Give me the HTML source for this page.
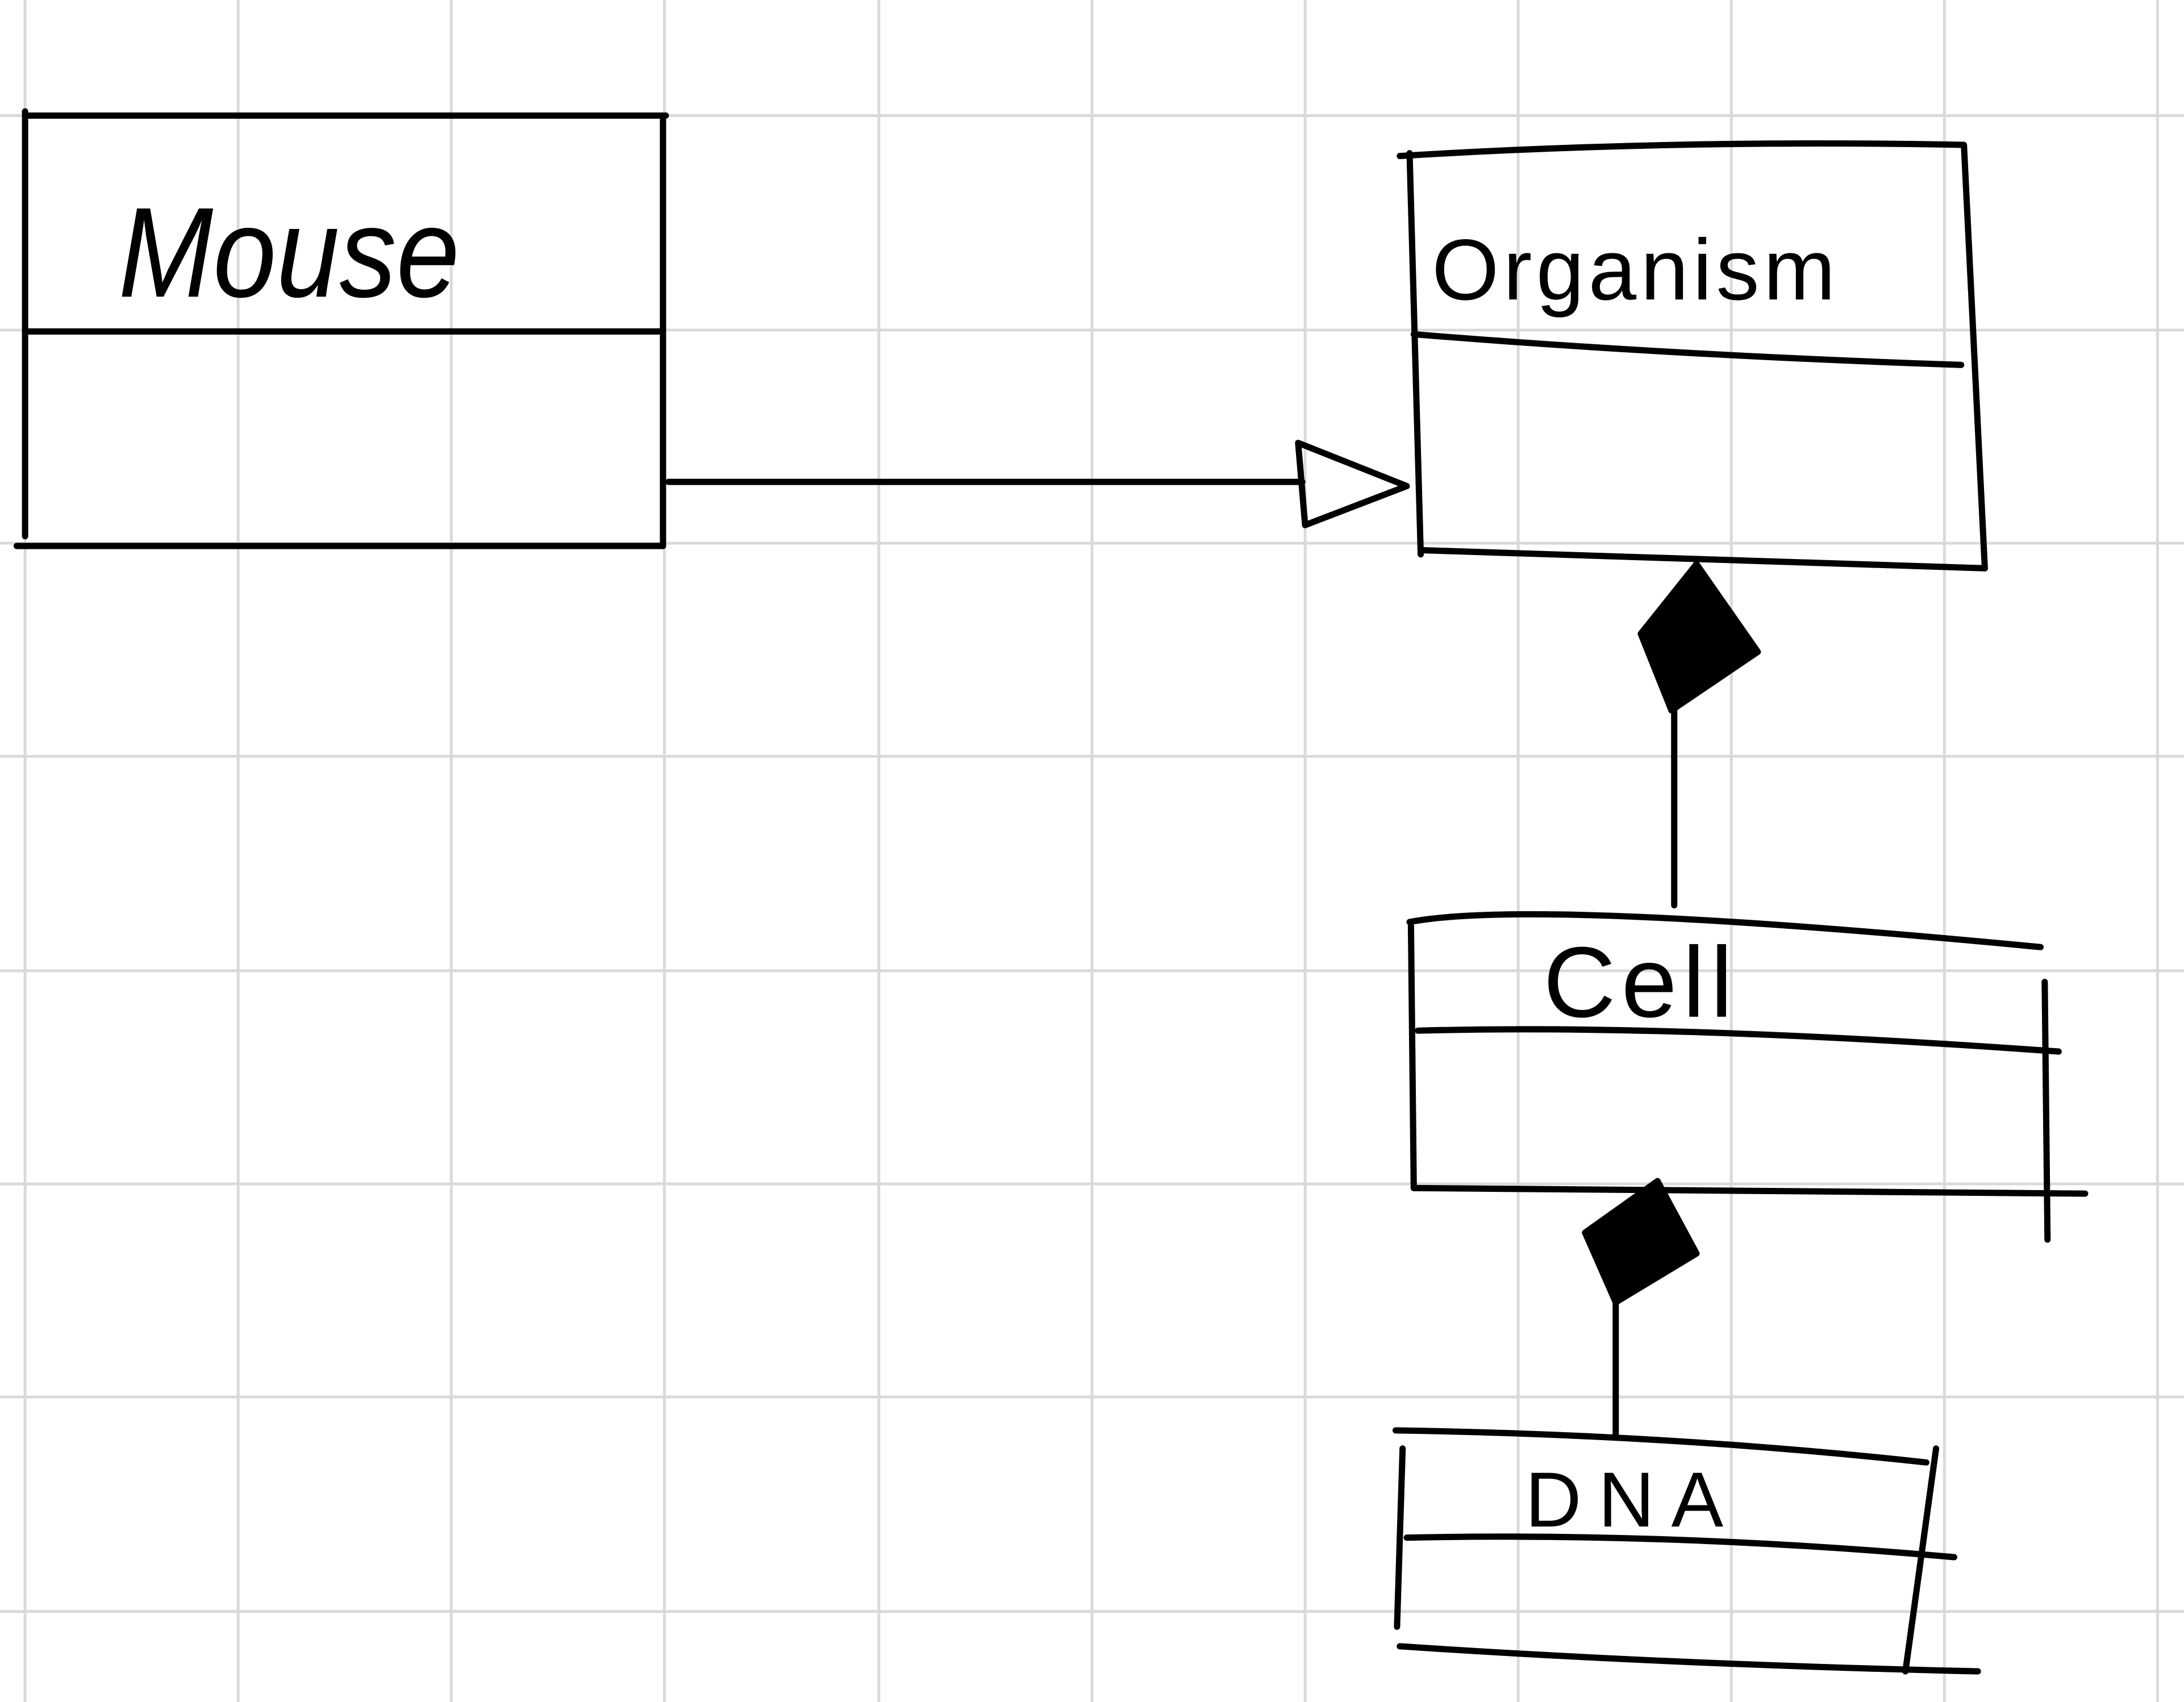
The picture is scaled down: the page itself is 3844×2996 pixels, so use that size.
<!DOCTYPE html>
<html><head><meta charset="utf-8"><style>
html,body{margin:0;padding:0;background:#fff;width:3844px;height:2996px;overflow:hidden}
svg{display:block}
text{font-family:"Liberation Sans",sans-serif;fill:#000}
</style></head><body>
<svg width="3844" height="2996" viewBox="0 0 1568 1222" preserveAspectRatio="none" xmlns="http://www.w3.org/2000/svg">
<g stroke="#d9d9d9" stroke-width="2">
<line x1="18" y1="0" x2="18" y2="1222"/><line x1="171" y1="0" x2="171" y2="1222"/><line x1="324" y1="0" x2="324" y2="1222"/><line x1="477" y1="0" x2="477" y2="1222"/><line x1="631" y1="0" x2="631" y2="1222"/><line x1="784" y1="0" x2="784" y2="1222"/><line x1="937" y1="0" x2="937" y2="1222"/><line x1="1090" y1="0" x2="1090" y2="1222"/><line x1="1243" y1="0" x2="1243" y2="1222"/><line x1="1396" y1="0" x2="1396" y2="1222"/><line x1="1549" y1="0" x2="1549" y2="1222"/>
<line x1="0" y1="83" x2="1568" y2="83"/><line x1="0" y1="237" x2="1568" y2="237"/><line x1="0" y1="390" x2="1568" y2="390"/><line x1="0" y1="543" x2="1568" y2="543"/><line x1="0" y1="697" x2="1568" y2="697"/><line x1="0" y1="850" x2="1568" y2="850"/><line x1="0" y1="1003" x2="1568" y2="1003"/><line x1="0" y1="1157" x2="1568" y2="1157"/>
</g>
<g stroke="#000" stroke-width="4.5" fill="none" stroke-linecap="round" stroke-linejoin="round">
<line x1="18" y1="83" x2="478" y2="83"/><line x1="18" y1="80" x2="18" y2="385"/><line x1="476" y1="83" x2="476" y2="392"/><line x1="18" y1="238" x2="476" y2="238"/><line x1="12" y1="392" x2="476" y2="392"/>
<line x1="480" y1="346" x2="935" y2="346"/><path d="M932,318 L1010,349 L937,377 Z"/>
<path d="M1005,112 Q1200,100 1410,104 L1425,408"/><path d="M1020,395 Q1200,400 1425,408"/><line x1="1012" y1="110" x2="1020" y2="398"/><path d="M1015,240 Q1200,255 1408,262"/>
<path d="M1218,405 L1262,468 L1200,510 L1178,455 Z" fill="#000"/><line x1="1202" y1="505" x2="1202" y2="650"/>
<path d="M1012,662 Q1100,645 1465,680"/><line x1="1013" y1="665" x2="1015" y2="853"/><line x1="1015" y1="853" x2="1497" y2="857"/><path d="M1018,740 Q1200,735 1478,755"/><line x1="1468" y1="705" x2="1470" y2="890"/>
<path d="M1190,848 L1218,900 L1160,935 L1138,885 Z" fill="#000"/><line x1="1160" y1="935" x2="1160" y2="1030"/>
<path d="M1002,1027 Q1200,1030 1383,1050"/><line x1="1007" y1="1040" x2="1003" y2="1168"/><line x1="1390" y1="1040" x2="1368" y2="1200"/><path d="M1010,1104 Q1200,1100 1403,1118"/><path d="M1005,1182 Q1200,1195 1420,1200"/>
</g>
<text x="85" y="213" font-size="92" font-style="italic" font-weight="300" textLength="245" lengthAdjust="spacingAndGlyphs">Mouse</text>
<text x="1028" y="215" font-size="62" letter-spacing="3">Organism</text>
<text x="1108" y="730" font-size="72" letter-spacing="4">Cell</text>
<text x="1095" y="1096" font-size="56" letter-spacing="12">DNA</text>
</svg>
</body></html>
